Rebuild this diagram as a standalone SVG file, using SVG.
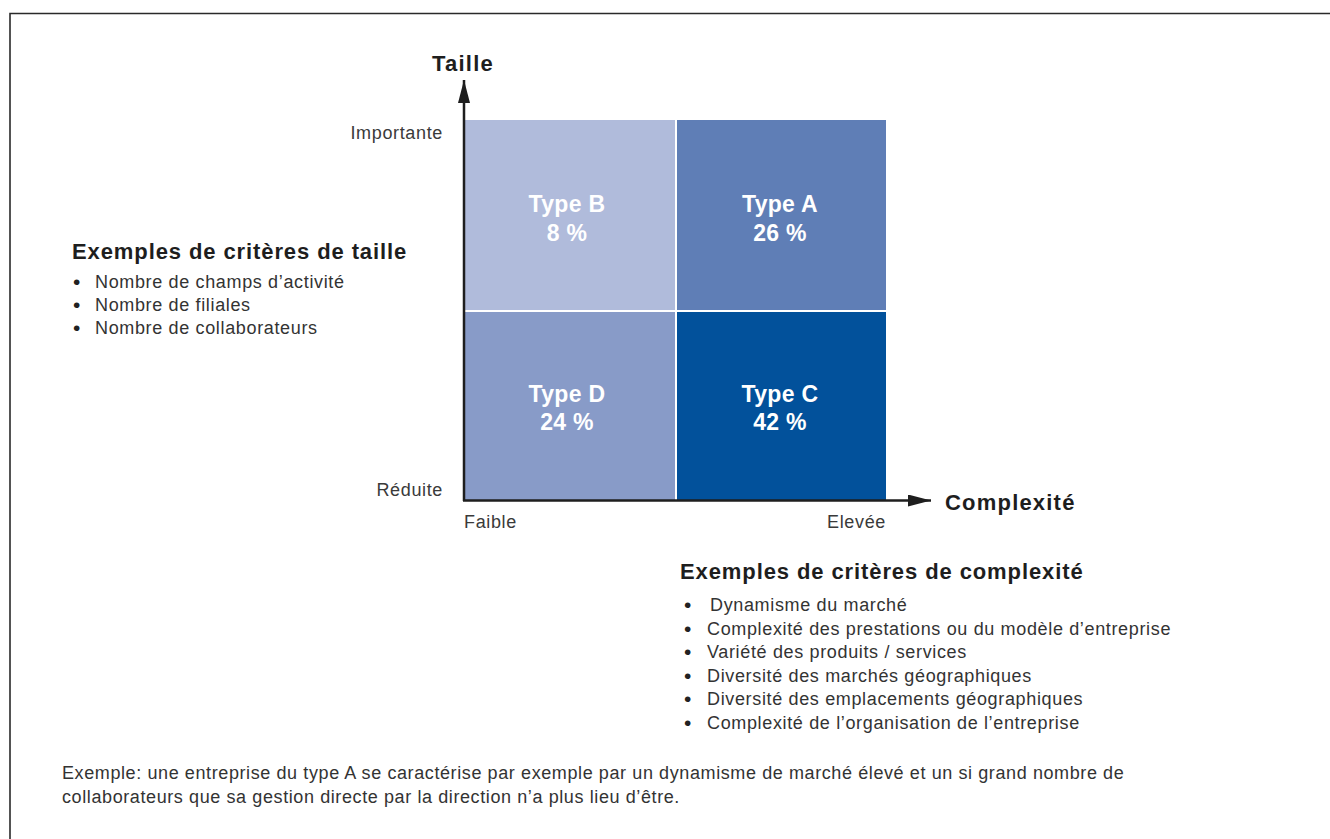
<svg xmlns="http://www.w3.org/2000/svg" width="1330" height="839" viewBox="0 0 1330 839">
  <style>
    text { font-family: "Liberation Sans", Arial, sans-serif; fill: #2b2b2b; }
    .axis-title { font-size: 22px; font-weight: bold; letter-spacing: 1.2px; fill: #1e1e1e; }
    .tick { font-size: 18px; letter-spacing: 0.65px; fill: #3a3a3a; }
    .quad { font-size: 23px; font-weight: bold; letter-spacing: 0.3px; fill: #ffffff; text-anchor: middle; }
    .heading { font-size: 22px; font-weight: bold; letter-spacing: 0.9px; fill: #1e1e1e; }
    .item { font-size: 18px; letter-spacing: 0.65px; fill: #333333; }
    .bullet { font-size: 21px; fill: #222222; }
    .note { font-size: 18px; letter-spacing: 0.6px; fill: #333333; }
    .axis { stroke: #1e1e1e; stroke-width: 2.5; fill: none; }
  </style>
  <defs>
    <marker id="arrow" viewBox="0 0 23 12" refX="23" refY="6" markerWidth="23" markerHeight="12" markerUnits="userSpaceOnUse" orient="auto">
      <path d="M0,0 L23,6 L0,12 Z" fill="#1e1e1e"/>
    </marker>
  </defs>

  <rect width="1330" height="839" fill="#ffffff"/>
  <!-- outer frame, open on the right and bottom -->
  <path d="M10,839 L10,13.5 L1330,13.5" fill="none" stroke="#2a2a2a" stroke-width="1.6"/>

  <!-- quadrants -->
  <g id="type-b">
    <rect x="465" y="120" width="210" height="190" fill="#b0bbdb"/>
    <text class="quad" x="567" y="212">Type B</text>
    <text class="quad" x="567" y="241">8 %</text>
  </g>
  <g id="type-a">
    <rect x="677" y="120" width="209" height="190" fill="#5f7eb6"/>
    <text class="quad" x="780" y="212">Type A</text>
    <text class="quad" x="780" y="241">26 %</text>
  </g>
  <g id="type-d">
    <rect x="465" y="312" width="210" height="188" fill="#889bc8"/>
    <text class="quad" x="567" y="402">Type D</text>
    <text class="quad" x="567" y="430">24 %</text>
  </g>
  <g id="type-c">
    <rect x="677" y="312" width="209" height="188" fill="#02519b"/>
    <text class="quad" x="780" y="402">Type C</text>
    <text class="quad" x="780" y="430">42 %</text>
  </g>

  <!-- axes -->
  <g id="axes">
    <line class="axis" x1="464" y1="501" x2="464" y2="80" marker-end="url(#arrow)"/>
    <line class="axis" x1="463" y1="500.5" x2="931" y2="500.5" marker-end="url(#arrow)"/>
  </g>

  <g id="axis-labels">
    <text class="axis-title" x="463" y="71" text-anchor="middle">Taille</text>
    <text class="axis-title" x="945" y="510">Complexité</text>
    <text class="tick" x="443" y="139" text-anchor="end">Importante</text>
    <text class="tick" x="443" y="496" text-anchor="end">Réduite</text>
    <text class="tick" x="464" y="528">Faible</text>
    <text class="tick" x="886" y="528" text-anchor="end">Elevée</text>
  </g>

  <g id="size-criteria">
    <text class="heading" x="72" y="259">Exemples de critères de taille</text>
    <text class="bullet" x="73" y="289">•</text>
    <text class="item" x="95" y="288">Nombre de champs d’activité</text>
    <text class="bullet" x="73" y="312">•</text>
    <text class="item" x="95" y="311">Nombre de filiales</text>
    <text class="bullet" x="73" y="335">•</text>
    <text class="item" x="95" y="334">Nombre de collaborateurs</text>
  </g>

  <g id="complexity-criteria">
    <text class="heading" x="680" y="579">Exemples de critères de complexité</text>
    <text class="bullet" x="684" y="612">•</text>
    <text class="item" x="710" y="611">Dynamisme du marché</text>
    <text class="bullet" x="684" y="636">•</text>
    <text class="item" x="707" y="635">Complexité des prestations ou du modèle d’entreprise</text>
    <text class="bullet" x="684" y="659">•</text>
    <text class="item" x="707" y="658">Variété des produits / services</text>
    <text class="bullet" x="684" y="683">•</text>
    <text class="item" x="707" y="682">Diversité des marchés géographiques</text>
    <text class="bullet" x="684" y="706">•</text>
    <text class="item" x="707" y="705">Diversité des emplacements géographiques</text>
    <text class="bullet" x="684" y="730">•</text>
    <text class="item" x="707" y="729">Complexité de l’organisation de l’entreprise</text>
  </g>

  <g id="example-note">
    <text class="note" x="62" y="779">Exemple: une entreprise du type A se caractérise par exemple par un dynamisme de marché élevé et un si grand nombre de</text>
    <text class="note" x="62" y="803">collaborateurs que sa gestion directe par la direction n’a plus lieu d’être.</text>
  </g>
</svg>
